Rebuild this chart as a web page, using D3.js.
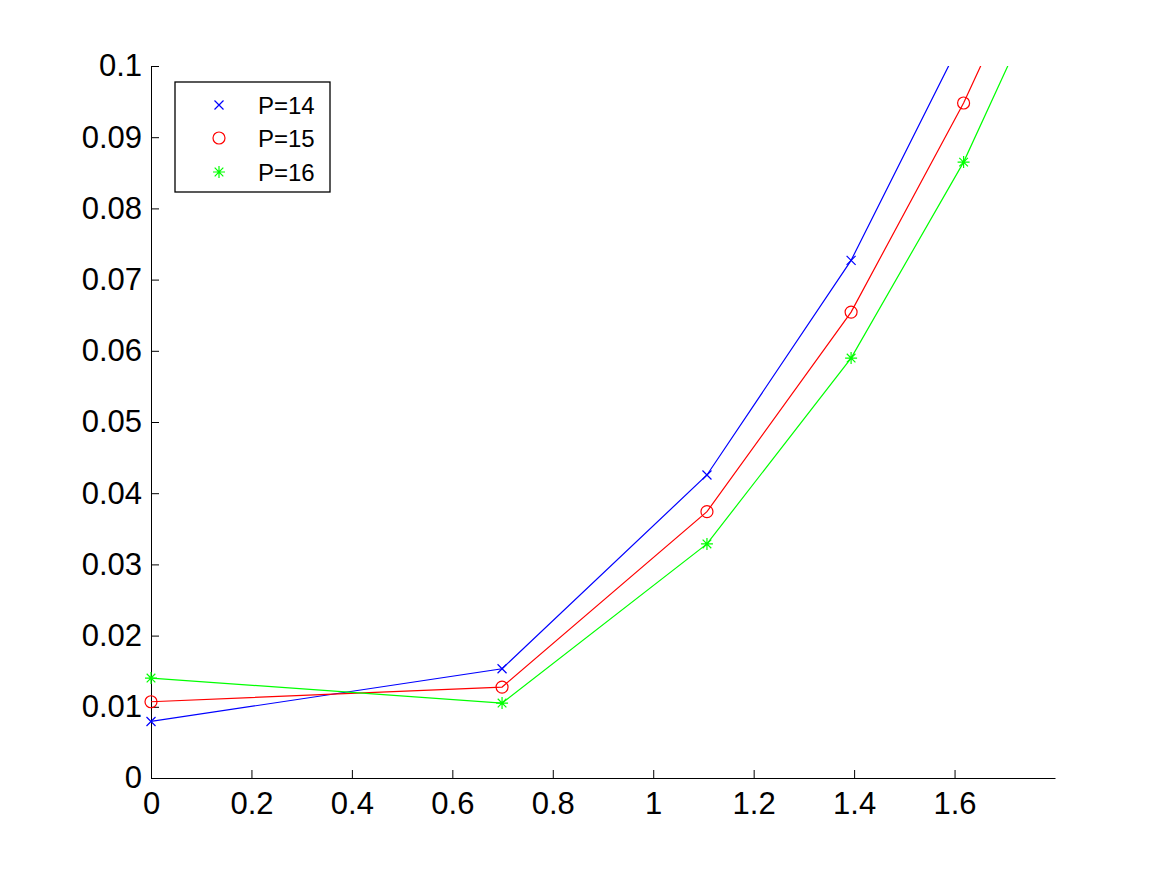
<!DOCTYPE html>
<html>
<head>
<meta charset="utf-8">
<script src="https://cdn.jsdelivr.net/npm/d3@7"></script>
<style>
  body { margin: 0; background: #fff; }
  text { font-family: "Liberation Sans", Arial, Helvetica, sans-serif; }
</style>
</head>
<body>
<div id="chart"></div>
<script>
// values
const xValues = [0, 0.699, 1.107, 1.394, 1.618, 1.79]
const p14 = [0.00794, 0.01534, 0.04256, 0.0727, 0.1042, 0.1296]
const p15 = [0.01071, 0.01277, 0.03741, 0.06544, 0.0948, 0.1211]
const p16 = [0.01403, 0.01052, 0.03288, 0.05898, 0.0865, 0.1129]
const seriesNames = ['P=14', 'P=15', 'P=16']
const seriesColors = ['#0000ff', '#ff0000', '#00ff00']
const seriesMarkers = ['x', 'o', '*']
const xTicks = [0, 0.2, 0.4, 0.6, 0.8, 1, 1.2, 1.4, 1.6]
const yTicks = [0, 0.01, 0.02, 0.03, 0.04, 0.05, 0.06, 0.07, 0.08, 0.09, 0.1]

let margin = {top: 66, right: 112, bottom: 97, left: 151},
    width = 1167 - margin.left - margin.right,
    height = 875 - margin.top - margin.bottom

const svg = d3.select('#chart').append('svg')
    .attr('width', 1167)
    .attr('height', 875)
const g = svg.append('g')
    .attr('transform', 'translate(' + margin.left + ',' + margin.top + ')')

const xScale = d3.scaleLinear().domain([0, 1.8]).range([0, width])
const yScale = d3.scaleLinear().domain([0, 0.1]).range([height, 0])

svg.append('defs').append('clipPath').attr('id', 'plotclip')
    .append('rect').attr('x', 0).attr('y', 0).attr('width', width).attr('height', height)

const fmt = d => d === 0 ? '0' : String(+d.toFixed(2))

const xAxis = g.append('g')
    .attr('transform', 'translate(0,' + height + ')')
    .call(d3.axisBottom(xScale).tickValues(xTicks).tickFormat(fmt).tickSizeInner(-8).tickSizeOuter(0).tickPadding(14))
const yAxis = g.append('g')
    .call(d3.axisLeft(yScale).tickValues(yTicks).tickFormat(fmt).tickSizeInner(-8).tickSizeOuter(0).tickPadding(9))

g.selectAll('.domain').attr('stroke', '#000').attr('stroke-width', 1)
g.selectAll('.tick line').attr('stroke', '#000').attr('stroke-width', 1)
g.selectAll('.tick text').attr('fill', '#000').style('font-size', '31px')
    .style('font-family', '"Liberation Sans", Arial, sans-serif')

function markerPath(type, r) {
    if (type === 'x') {
        return 'M' + (-r) + ',' + (-r) + 'L' + r + ',' + r + 'M' + (-r) + ',' + r + 'L' + r + ',' + (-r)
    }
    if (type === '*') {
        let d = r * 0.72
        return 'M' + (-r) + ',0L' + r + ',0M0,' + (-r) + 'L0,' + r +
            'M' + (-d) + ',' + (-d) + 'L' + d + ',' + d + 'M' + (-d) + ',' + d + 'L' + d + ',' + (-d)
    }
    return null
}

function drawMarker(sel, type, color) {
    if (type === 'o') {
        sel.append('circle').attr('r', 6).attr('fill', 'none').attr('stroke', color).attr('stroke-width', 1.2)
    } else {
        sel.append('path').attr('d', markerPath(type, type === 'x' ? 4.5 : 6))
            .attr('fill', 'none').attr('stroke', color).attr('stroke-width', 1.2)
    }
}

const allSeries = [p14, p15, p16]
const line = d3.line().x((d, i) => xScale(xValues[i])).y(d => yScale(d))

allSeries.forEach((vals, si) => {
    g.append('path')
        .datum(vals)
        .attr('clip-path', 'url(#plotclip)')
        .attr('fill', 'none')
        .attr('stroke', seriesColors[si])
        .attr('stroke-width', 1.2)
        .attr('d', line)

    // markers are dropped when their centre is outside the axes
    const pts = vals.map((v, i) => ({x: xValues[i], y: v}))
        .filter(p => p.x <= 1.8 && p.y <= 0.1 && p.y >= 0)
    pts.forEach(p => {
        const m = g.append('g').attr('transform', 'translate(' + xScale(p.x) + ',' + yScale(p.y) + ')')
        drawMarker(m, seriesMarkers[si], seriesColors[si])
    })
})

// legend
const legend = svg.append('g').attr('transform', 'translate(175,82)')
legend.append('rect').attr('x', 0).attr('y', 0).attr('width', 155).attr('height', 110)
    .attr('fill', '#fff').attr('stroke', '#000').attr('stroke-width', 1.3)
const rowY = [23, 56, 90]
seriesNames.forEach((name, i) => {
    const m = legend.append('g').attr('transform', 'translate(44,' + rowY[i] + ')')
    drawMarker(m, seriesMarkers[i], seriesColors[i])
    legend.append('text').attr('x', 83).attr('y', rowY[i]).attr('dy', '0.36em')
        .style('font-size', '24px').attr('fill', '#000').text(name)
})
</script>
</body>
</html>
